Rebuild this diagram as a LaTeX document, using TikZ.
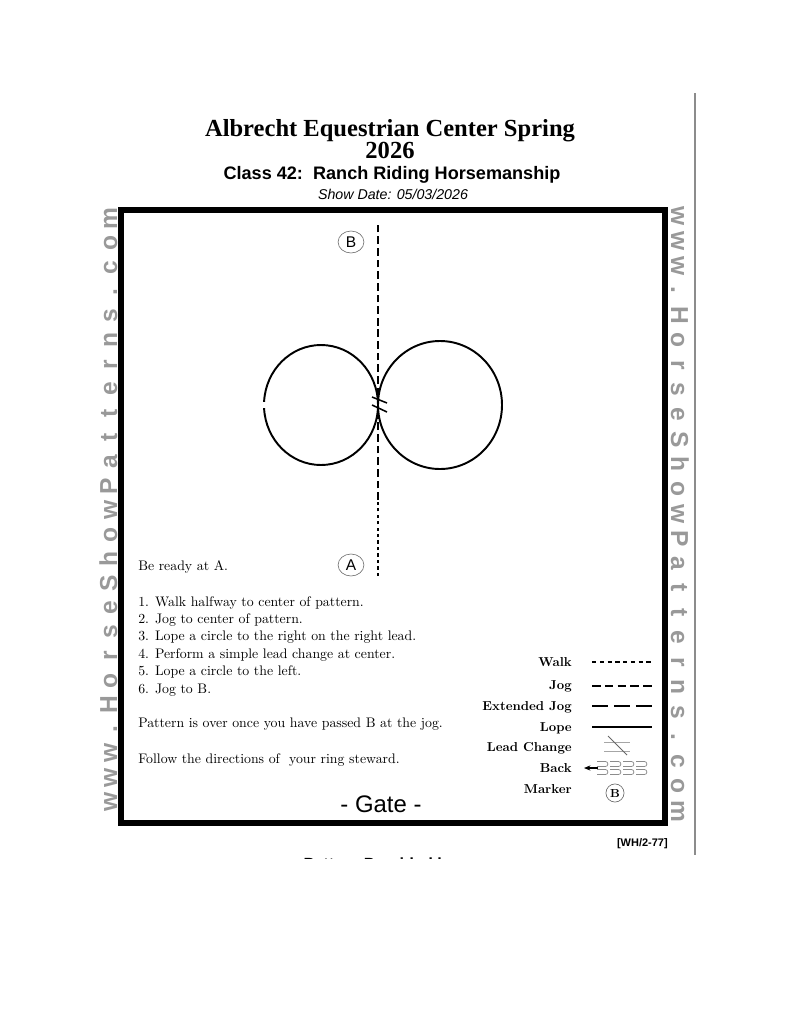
\documentclass[tikz,border=0pt]{standalone}
\usepackage{fontspec}
\usetikzlibrary{positioning, arrows.meta, shapes.geometric}
\newfontfamily\titlefont{Liberation Serif}
\newfontfamily\arialfont{Liberation Sans}

\tikzset{
  webtext/.style={text=black!40, anchor=base, inner sep=0pt, font=\arialfont\bfseries\fontsize{19}{19}\selectfont},
  marker/.style={draw=black!55, line width=0.5pt, ellipse, inner sep=0pt, minimum width=20pt, minimum height=17pt, font=\arialfont\fontsize{12}{12}\selectfont},
  steps/.style={anchor=base west, inner sep=0pt, font=\fontsize{10.7}{13}\selectfont},
  legendlabel/.style={anchor=base east, inner sep=0pt, font=\bfseries\fontsize{10}{12}\selectfont},
  lope/.style={line width=1.5pt},
  walkline/.style={line width=1.5pt, dash pattern=on 2.5pt off 2.5pt},
  jogline/.style={line width=1.5pt, dash pattern=on 6pt off 3pt},
  hook/.style={black!45, line width=0.6pt},
}

\begin{document}
\begin{tikzpicture}[x=0.7737pt, y=-0.7737pt]
\useasboundingbox (0,0) rectangle (791,1024);

\node[font=\titlefont\bfseries\fontsize{19}{22}\selectfont, anchor=base, inner sep=0pt] (title1) at (390,136) {Albrecht Equestrian Center Spring};
\node[font=\titlefont\bfseries\fontsize{19}{22}\selectfont, anchor=base, inner sep=0pt] (title2) at (390,158) {2026};
\node[font=\arialfont\bfseries\fontsize{14}{16}\selectfont, anchor=base, inner sep=0pt] (classname) at (392,179) {Class 42:\ \ Ranch Riding Horsemanship};
\node[font=\arialfont\itshape\fontsize{11}{13}\selectfont, anchor=base, inner sep=0pt] (showdate) at (393,199) {Show Date: 05/03/2026};

\draw[line width=4pt] (121,210) rectangle (665,823);
\draw[black!45, line width=2.3pt] (695,93) -- (695,855);

\foreach \ch [count=\i from 0] in {w,w,w,.,H,o,r,s,e,S,h,o,w,P,a,t,t,e,r,n,s,.,c,o,m}{
  \node[webtext, rotate=90] (lweb\i) at (117,802-24.3*\i) {\ch};
  \node[webtext, rotate=-90] (rweb\i) at (671,216+24.8*\i) {\ch};
}

\node[marker] (mB) at (351,242) {B};
\node[marker] (mA) at (351,565) {A};
\coordinate (lineTop) at (378,222);
\coordinate (half) at (378,500);
\coordinate (lineBot) at (378,576);
\coordinate (ctr) at (378,405);
\draw[walkline] (lineBot) -- (half);
\draw[jogline] (half) -- (lineTop);

\draw[lope] (ctr) arc[start angle=0, end angle=177, x radius=57, y radius=60];
\draw[lope] (ctr) arc[start angle=360, end angle=183, x radius=57, y radius=60];
\draw[lope] (ctr) arc[start angle=180, end angle=-180, x radius=62, y radius=64];
\draw[line width=1.2pt] (372,397) -- (387,403);
\draw[line width=1.2pt] (372,405) -- (387,412);

\node[steps] (ready) at (138,570) {Be ready at A.};
\foreach \txt [count=\i] in {Walk halfway to center of pattern., Jog to center of pattern., Lope a circle to the right on the right lead., Perform a simple lead change at center., Lope a circle to the left., Jog to B.}
  \node[steps] (step\i) at (138,606+17.4*\i-17.4) {\makebox[13pt][l]{\i.}\txt};
\node[steps] (over) at (138,727) {Pattern is over once you have passed B at the jog.};
\node[steps] (steward) at (138,763) {Follow the directions of\ \ your ring steward.};

\node[legendlabel] (lwalk) at (572,666) {Walk};
\node[legendlabel] (ljog) at (572,689) {Jog};
\node[legendlabel] (lext) at (572,710) {Extended Jog};
\node[legendlabel] (llope) at (572,731) {Lope};
\node[legendlabel] (llead) at (572,751) {Lead Change};
\node[legendlabel] (lback) at (572,772) {Back};
\node[legendlabel] (lmark) at (572,793) {Marker};

\draw[line width=0.9pt, dash pattern=on 3.3pt off 2.7pt] (592,662) -- (652,662);
\draw[line width=0.9pt, dash pattern=on 6.6pt off 3.3pt] (592,686) -- (652,686);
\draw[line width=0.9pt, dash pattern=on 12.5pt off 4.5pt] (592,706) -- (652,706);
\draw[line width=0.9pt] (592,727) -- (652,727);
\draw[black!35, line width=0.6pt] (604,742) -- (630,742);
\draw[black!35, line width=0.6pt] (604,751) -- (630,751);
\draw[black!60, line width=0.6pt] (608,736) -- (627,755);
\draw[line width=0.9pt, -{Stealth[length=5pt, width=4pt]}] (598,768) -- (584,768);
\foreach \row in {764,772}
  \foreach \hx in {597,610,623,636}
    \draw[hook] (\hx,\row-2.5) -- (\hx+8.5,\row-2.5) to[out=0, in=0, looseness=1.6] (\hx+8.5,\row+2.5) -- (\hx,\row+2.5);
\node[draw=black!60, line width=0.5pt, circle, inner sep=0pt, minimum size=14pt, font=\bfseries\fontsize{9}{9}\selectfont] (legB) at (615,793) {B};

\node[font=\arialfont\fontsize{18.5}{20}\selectfont, anchor=base] (gate) at (381,812) {- Gate -};
\node[font=\arialfont\bfseries\fontsize{8.5}{10}\selectfont, anchor=base east, inner sep=0pt] (code) at (668,846) {[WH/2-77]};

\begin{scope}
\clip (0,0) rectangle (791,858);
\node[font=\arialfont\bfseries\fontsize{12.5}{14}\selectfont, anchor=base, inner sep=0pt] (provided) at (380,869) {Pattern Provided by};
\end{scope}

\end{tikzpicture}
\end{document}
